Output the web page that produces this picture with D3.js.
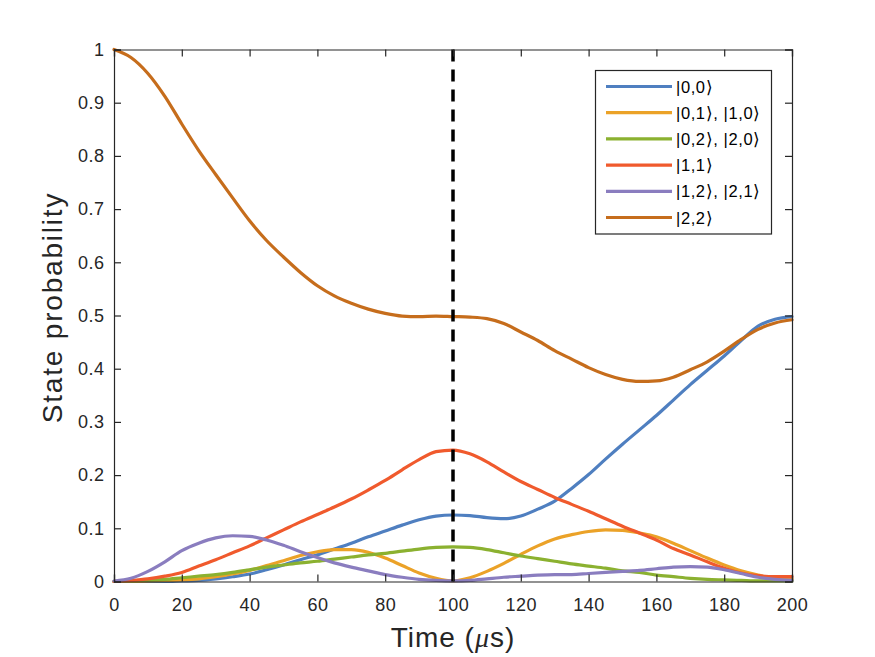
<!DOCTYPE html>
<html><head><meta charset="utf-8">
<script src="https://cdn.jsdelivr.net/npm/d3@7"></script>
<style>body{margin:0;background:#fff}svg{display:block}</style>
</head><body>
<script>
const times = d3.range(0, 201, 5);
const seriesNames = ["|0,0\u27E9", "|0,1\u27E9, |1,0\u27E9", "|0,2\u27E9, |2,0\u27E9", "|1,1\u27E9", "|1,2\u27E9, |2,1\u27E9", "|2,2\u27E9"];
const colors = ["#4f7fc0", "#eba228", "#8bb130", "#f05a2d", "#8a7dbf", "#c66d1c"];
const p00 = [0,0,0,0,0.001,0.002,0.005,0.009,0.014,0.022,0.031,0.041,0.050,0.061,0.072,0.084,0.095,0.106,0.116,0.123,0.125,0.124,0.120,0.118,0.123,0.136,0.151,0.175,0.201,0.230,0.258,0.285,0.312,0.341,0.370,0.397,0.424,0.453,0.480,0.493,0.498];
const p01 = [0,0,0.001,0.002,0.003,0.005,0.009,0.014,0.021,0.030,0.039,0.049,0.056,0.060,0.060,0.055,0.044,0.030,0.016,0.006,0.001,0.007,0.019,0.034,0.051,0.067,0.080,0.088,0.094,0.097,0.096,0.091,0.084,0.072,0.058,0.044,0.031,0.020,0.012,0.006,0.005];
const p02 = [0,0.001,0.002,0.004,0.007,0.010,0.013,0.017,0.022,0.027,0.031,0.035,0.038,0.042,0.046,0.050,0.053,0.057,0.061,0.064,0.065,0.064,0.060,0.054,0.048,0.043,0.038,0.033,0.029,0.025,0.020,0.017,0.012,0.009,0.006,0.004,0.003,0.002,0.001,0.001,0.001];
const p11 = [0,0.002,0.005,0.010,0.017,0.029,0.041,0.054,0.067,0.082,0.097,0.112,0.126,0.140,0.155,0.172,0.190,0.210,0.229,0.244,0.247,0.240,0.225,0.206,0.188,0.173,0.158,0.145,0.132,0.118,0.104,0.091,0.078,0.062,0.050,0.037,0.025,0.016,0.011,0.009,0.009];
const p12 = [0.001,0.006,0.019,0.037,0.058,0.072,0.082,0.086,0.085,0.078,0.068,0.056,0.045,0.035,0.027,0.020,0.013,0.008,0.004,0.002,0.001,0.002,0.005,0.008,0.010,0.012,0.013,0.013,0.015,0.017,0.019,0.021,0.024,0.027,0.028,0.027,0.022,0.015,0.008,0.004,0.002];
const p22 = [1.0,0.985,0.955,0.912,0.860,0.810,0.765,0.721,0.678,0.641,0.610,0.581,0.556,0.537,0.523,0.512,0.504,0.499,0.498,0.499,0.498,0.497,0.494,0.485,0.469,0.453,0.434,0.418,0.402,0.389,0.380,0.376,0.377,0.384,0.398,0.413,0.433,0.455,0.474,0.486,0.492];
const seriesValues = [p00, p01, p02, p11, p12, p22];
const xTicks = d3.range(0, 201, 20);
const yTicks = d3.range(0, 1.0001, 0.1);
const markerTime = 100;

const W = 875, H = 657;
const L = 114, R = 792, T = 49.5, B = 581.5;
const ink = "#262626";
const font = "'Liberation Sans', Arial, Helvetica, sans-serif";

const svg = d3.select("body").append("svg").attr("width", W).attr("height", H);
const x = d3.scaleLinear().domain([0, 200]).range([L, R]);
const y = d3.scaleLinear().domain([0, 1]).range([B, T]);

const plot = svg.append("g");
const line = d3.line().x((d, i) => x(times[i])).y(d => y(d)).curve(d3.curveMonotoneX);

seriesValues.forEach((vals, k) => {
  plot.append("path").datum(vals).attr("d", line)
    .attr("fill", "none").attr("stroke", colors[k]).attr("stroke-width", 3.2)
    .attr("stroke-linejoin", "round").attr("stroke-linecap", "round");
});

plot.append("line").attr("x1", x(markerTime)).attr("x2", x(markerTime))
  .attr("y1", y(1)).attr("y2", y(0))
  .attr("stroke", "#000").attr("stroke-width", 3.5).attr("stroke-dasharray", "12,8");

// axes
const xAxis = d3.axisBottom(x).tickValues(xTicks).tickSize(-7).tickPadding(17).tickFormat(d3.format("d"));
const yAxis = d3.axisLeft(y).tickValues(yTicks).tickSize(-7).tickPadding(10).tickFormat(d => d === 0 ? "0" : d3.format(".1~f")(d));
const gx = svg.append("g").attr("transform", `translate(0,${B})`).call(xAxis);
const gy = svg.append("g").attr("transform", `translate(${L},0)`).call(yAxis);
const gxt = svg.append("g").attr("transform", `translate(0,${T})`).call(d3.axisTop(x).tickValues(xTicks).tickSize(-7).tickFormat(""));
const gyr = svg.append("g").attr("transform", `translate(${R},0)`).call(d3.axisRight(y).tickValues(yTicks).tickSize(-7).tickFormat(""));
[gx, gy, gxt, gyr].forEach(g => {
  g.selectAll("path").attr("stroke", ink).attr("stroke-width", 1.2);
  g.selectAll("line").attr("stroke", ink).attr("stroke-width", 1.2);
  g.selectAll("text").attr("fill", ink).attr("font-family", font).attr("font-size", 18).attr("letter-spacing", 0.5);
});
gy.selectAll("text").attr("dx", 0.5);

svg.append("text").attr("x", (L + R) / 2).attr("y", 647).attr("text-anchor", "middle")
  .attr("font-family", font).attr("font-size", 28).attr("letter-spacing", 1).attr("fill", ink)
  .html("Time (<tspan font-style='italic' font-family='Liberation Serif, serif'>\u03BC</tspan>s)");
svg.append("text").attr("transform", `translate(62,${(T + B) / 2 - 8}) rotate(-90)`).attr("text-anchor", "middle")
  .attr("font-family", font).attr("font-size", 28).attr("letter-spacing", 1.8).attr("fill", ink).text("State probability");

// legend
const lg = svg.append("g");
lg.append("rect").attr("x", 595.5).attr("y", 70.5).attr("width", 176).attr("height", 163.5)
  .attr("fill", "#fff").attr("stroke", ink).attr("stroke-width", 1.2);
seriesNames.forEach((name, k) => {
  const yy = 86.5 + k * 26.2;
  lg.append("line").attr("x1", 606).attr("x2", 672).attr("y1", yy).attr("y2", yy)
    .attr("stroke", colors[k]).attr("stroke-width", 3.2);
  lg.append("text").attr("x", 676).attr("y", yy + 6).attr("font-family", font)
    .attr("font-size", 16.5).attr("letter-spacing", 0.6).attr("fill", "#000").text(name);
});
</script>
</body></html>
